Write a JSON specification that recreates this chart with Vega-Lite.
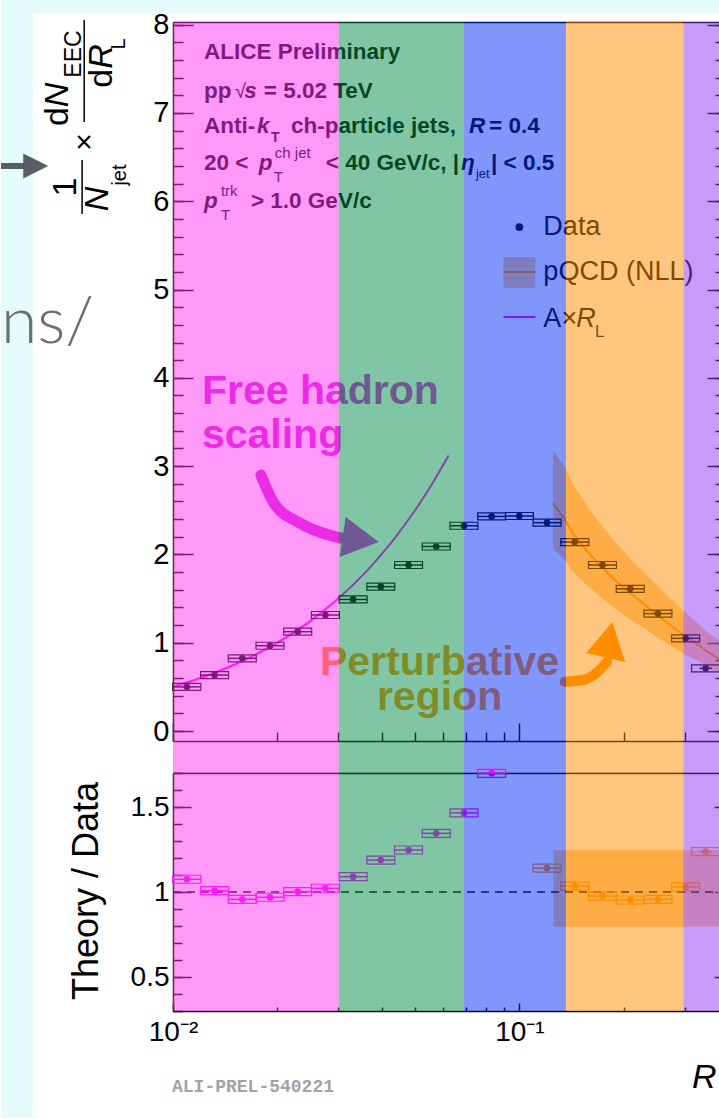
{
"$schema": "https://vega.github.io/schema/vega-lite/v6.json",
"background": "white",
"padding": 0,
"autosize": {"type": "pad"},
"spacing": 32,
"bounds": "flush",
"config": {"view": {"stroke": null}, "font": "Liberation Sans"},
"datasets": {
 "pts": [
  {"x":0.010965,"lo":0.01,"hi":0.012023,"y":0.50},
  {"x":0.013183,"lo":0.012023,"hi":0.014454,"y":0.634},
  {"x":0.015849,"lo":0.014454,"hi":0.017378,"y":0.823},
  {"x":0.019055,"lo":0.017378,"hi":0.020893,"y":0.966},
  {"x":0.022909,"lo":0.020893,"hi":0.025119,"y":1.125},
  {"x":0.027542,"lo":0.025119,"hi":0.0302,"y":1.314},
  {"x":0.033113,"lo":0.0302,"hi":0.036308,"y":1.49},
  {"x":0.039811,"lo":0.036308,"hi":0.043652,"y":1.635},
  {"x":0.047863,"lo":0.043652,"hi":0.052481,"y":1.88},
  {"x":0.057544,"lo":0.052481,"hi":0.063096,"y":2.09},
  {"x":0.069183,"lo":0.063096,"hi":0.075858,"y":2.325},
  {"x":0.083176,"lo":0.075858,"hi":0.091201,"y":2.43},
  {"x":0.1,"lo":0.091201,"hi":0.109648,"y":2.435},
  {"x":0.120226,"lo":0.109648,"hi":0.131826,"y":2.36},
  {"x":0.144544,"lo":0.131826,"hi":0.158489,"y":2.14},
  {"x":0.17378,"lo":0.158489,"hi":0.190546,"y":1.88},
  {"x":0.20893,"lo":0.190546,"hi":0.229087,"y":1.61},
  {"x":0.251189,"lo":0.229087,"hi":0.275423,"y":1.33},
  {"x":0.301995,"lo":0.275423,"hi":0.331131,"y":1.05},
  {"x":0.345,"lo":0.331131,"hi":0.36,"y":0.71}
 ],
 "ratA": [
  {"x":0.010965,"lo":0.01,"hi":0.012023,"r":1.075},
  {"x":0.013183,"lo":0.012023,"hi":0.014454,"r":1.008},
  {"x":0.015849,"lo":0.014454,"hi":0.017378,"r":0.957},
  {"x":0.019055,"lo":0.017378,"hi":0.020893,"r":0.969},
  {"x":0.022909,"lo":0.020893,"hi":0.025119,"r":1.002},
  {"x":0.027542,"lo":0.025119,"hi":0.0302,"r":1.022},
  {"x":0.033113,"lo":0.0302,"hi":0.036308,"r":1.09},
  {"x":0.039811,"lo":0.036308,"hi":0.043652,"r":1.188},
  {"x":0.047863,"lo":0.043652,"hi":0.052481,"r":1.247},
  {"x":0.057544,"lo":0.052481,"hi":0.063096,"r":1.345},
  {"x":0.069183,"lo":0.063096,"hi":0.075858,"r":1.466},
  {"x":0.083176,"lo":0.075858,"hi":0.091201,"r":1.698}
 ],
 "ratP": [
  {"x":0.120226,"lo":0.109648,"hi":0.131826,"r":1.14},
  {"x":0.144544,"lo":0.131826,"hi":0.158489,"r":1.035},
  {"x":0.17378,"lo":0.158489,"hi":0.190546,"r":0.976},
  {"x":0.20893,"lo":0.190546,"hi":0.229087,"r":0.953},
  {"x":0.251189,"lo":0.229087,"hi":0.275423,"r":0.957},
  {"x":0.301995,"lo":0.275423,"hi":0.331131,"r":1.03},
  {"x":0.345,"lo":0.331131,"hi":0.36,"r":1.237}
 ],
 "aline": [
  {"x":0.01,"y":0.50},{"x":0.012,"y":0.60},{"x":0.0145,"y":0.725},{"x":0.0175,"y":0.875},
  {"x":0.021,"y":1.05},{"x":0.025,"y":1.25},{"x":0.03,"y":1.50},{"x":0.036,"y":1.80},
  {"x":0.043,"y":2.15},{"x":0.05,"y":2.50},{"x":0.056,"y":2.80},{"x":0.0625,"y":3.12}
 ],
 "pqcd": [
  {"x":0.125,"c":2.58,"lo":2.07,"hi":3.18},
  {"x":0.135,"c":2.40,"lo":1.94,"hi":3.00},
  {"x":0.1427,"c":2.24,"lo":1.81,"hi":2.80},
  {"x":0.158,"c":2.02,"lo":1.64,"hi":2.53},
  {"x":0.1727,"c":1.86,"lo":1.51,"hi":2.33},
  {"x":0.19,"c":1.70,"lo":1.38,"hi":2.13},
  {"x":0.209,"c":1.56,"lo":1.26,"hi":1.95},
  {"x":0.23,"c":1.43,"lo":1.16,"hi":1.79},
  {"x":0.2524,"c":1.30,"lo":1.05,"hi":1.63},
  {"x":0.275,"c":1.19,"lo":0.96,"hi":1.49},
  {"x":0.2995,"c":1.08,"lo":0.87,"hi":1.35},
  {"x":0.33,"c":0.97,"lo":0.79,"hi":1.21},
  {"x":0.355,"c":0.88,"lo":0.71,"hi":1.10},
  {"x":0.377,"c":0.82,"lo":0.66,"hi":1.03}
 ],
 "rband": [{"lo":0.1253,"hi":0.377,"ylo":0.796,"yhi":1.247}],
 "regions": [
  {"lo":0.01,"hi":0.0301,"region":"r1"},
  {"lo":0.0301,"hi":0.06897,"region":"r2"},
  {"lo":0.06897,"hi":0.13628,"region":"r3"},
  {"lo":0.13628,"hi":0.29753,"region":"r4"},
  {"lo":0.29753,"hi":0.377,"region":"r5"}
 ]
},
"vconcat": [
{
 "width": 546, "height": 719,
 "resolve": {"axis": {"x": "independent", "y": "independent"}},
 "layer": [
  {"data":{"name":"pqcd"},"mark":{"type":"area","color":"#ff8c00","opacity":0.46,"clip":true},
   "encoding":{
    "x":{"field":"x","type":"quantitative","scale":{"type":"log","domain":[0.01,0.377],"nice":false},
         "axis":{"orient":"bottom","values":[0.01,0.1],"tickSize":-18,"tickColor":"black","tickWidth":1.5,"labels":false,"domain":true,"domainColor":"black","domainWidth":1.5,"grid":false,"title":null}},
    "y":{"field":"lo","type":"quantitative","scale":{"domain":[-0.113,8.03],"nice":false,"zero":false},
         "axis":{"orient":"left","values":[0,1,2,3,4,5,6,7,8],"ticks":false,"labels":true,"labelFont":"Liberation Sans","labelFontSize":29,"labelColor":"black","labelPadding":4,"labelFlush":false,"labelOverlap":false,"domain":true,"domainColor":"black","domainWidth":1.5,"grid":false,"title":null}},
    "y2":{"field":"hi"}}},
  {"data":{"name":"pqcd"},"mark":{"type":"line","color":"#ff8c00","strokeWidth":2,"clip":true},
   "encoding":{
    "x":{"field":"x","type":"quantitative","axis":{"orient":"bottom","values":[0.02,0.03,0.04,0.05,0.06,0.07,0.08,0.09,0.2,0.3],"tickSize":-9,"tickColor":"black","tickWidth":1.5,"labels":false,"domain":false,"grid":false,"title":null}},
    "y":{"field":"c","type":"quantitative","axis":{"orient":"left","values":[0,1,2,3,4,5,6,7,8],"tickSize":-20,"tickColor":"black","tickWidth":1.5,"labels":false,"domain":false,"grid":false,"title":null}}}},
  {"data":{"name":"aline"},"mark":{"type":"line","color":"#ff00ff","strokeWidth":2,"interpolate":"monotone"},
   "encoding":{
    "x":{"field":"x","type":"quantitative","axis":{"orient":"top","ticks":false,"labels":false,"domain":true,"domainColor":"black","domainWidth":1.5,"grid":false,"title":null}},
    "y":{"field":"y","type":"quantitative","axis":{"orient":"left","values":[0,0.2,0.4,0.6,0.8,1,1.2,1.4,1.6,1.8,2,2.2,2.4,2.6,2.8,3,3.2,3.4,3.6,3.8,4,4.2,4.4,4.6,4.8,5,5.2,5.4,5.6,5.8,6,6.2,6.4,6.6,6.8,7,7.2,7.4,7.6,7.8,8],"tickSize":-10,"tickColor":"black","tickWidth":1.5,"labels":false,"domain":false,"grid":false,"title":null}}}},
  {"data":{"name":"pts"},"mark":{"type":"rule","color":"black","strokeWidth":1.5},
   "encoding":{
    "x":{"field":"lo","type":"quantitative","axis":null},"x2":{"field":"hi"},
    "y":{"field":"y","type":"quantitative","axis":{"orient":"right","values":[0,1,2,3,4,5,6,7,8],"tickSize":-12,"tickColor":"black","tickWidth":1.5,"labels":false,"domain":false,"grid":false,"title":null}}}},
  {"data":{"name":"pts"},"mark":{"type":"point","shape":"M-14,-3.5H14V3.5H-14Z","size":4,"filled":false,"color":"black","strokeWidth":1.2,"opacity":1},
   "encoding":{
    "x":{"field":"x","type":"quantitative","axis":null},
    "y":{"field":"y","type":"quantitative","axis":{"orient":"right","values":[0,0.2,0.4,0.6,0.8,1,1.2,1.4,1.6,1.8,2,2.2,2.4,2.6,2.8,3,3.2,3.4,3.6,3.8,4,4.2,4.4,4.6,4.8,5,5.2,5.4,5.6,5.8,6,6.2,6.4,6.6,6.8,7,7.2,7.4,7.6,7.8,8],"tickSize":-4,"tickColor":"black","tickWidth":1.5,"labels":false,"domain":false,"grid":false,"title":null}}}},
  {"data":{"name":"pts"},"mark":{"type":"circle","size":45,"color":"black","opacity":1},
   "encoding":{"x":{"field":"x","type":"quantitative","axis":null},"y":{"field":"y","type":"quantitative","axis":null}}},

  {"data":{"values":[{}]},"mark":{"type":"text","text":"ALICE Preliminary","align":"left","baseline":"alphabetic","fontSize":22.5,"fontWeight":"bold","color":"black"},"encoding":{"x":{"datum":0.01228,"axis":null},"y":{"datum":7.610,"axis":null}}},
  {"data":{"values":[{}]},"mark":{"type":"text","text":"pp","align":"left","baseline":"alphabetic","fontSize":22.5,"fontWeight":"bold","color":"black"},"encoding":{"x":{"datum":0.01228,"axis":null},"y":{"datum":7.169,"axis":null}}},
  {"data":{"values":[{}]},"mark":{"type":"text","text":"√","align":"left","baseline":"alphabetic","fontSize":20,"color":"black"},"encoding":{"x":{"datum":0.01510,"axis":null},"y":{"datum":7.169,"axis":null}}},
  {"data":{"values":[{}]},"mark":{"type":"text","text":"s","align":"left","baseline":"alphabetic","fontSize":22.5,"fontWeight":"bold","fontStyle":"italic","color":"black"},"encoding":{"x":{"datum":0.01605,"axis":null},"y":{"datum":7.169,"axis":null}}},
  {"data":{"values":[{}]},"mark":{"type":"text","text":"= 5.02 TeV","align":"left","baseline":"alphabetic","fontSize":22.5,"fontWeight":"bold","color":"black"},"encoding":{"x":{"datum":0.01829,"axis":null},"y":{"datum":7.169,"axis":null}}},
  {"data":{"values":[{}]},"mark":{"type":"text","text":"Anti-","align":"left","baseline":"alphabetic","fontSize":22.5,"fontWeight":"bold","color":"black"},"encoding":{"x":{"datum":0.01228,"axis":null},"y":{"datum":6.772,"axis":null}}},
  {"data":{"values":[{}]},"mark":{"type":"text","text":"k","align":"left","baseline":"alphabetic","fontSize":22.5,"fontWeight":"bold","fontStyle":"italic","color":"black"},"encoding":{"x":{"datum":0.01748,"axis":null},"y":{"datum":6.772,"axis":null}}},
  {"data":{"values":[{}]},"mark":{"type":"text","text":"T","align":"left","baseline":"alphabetic","fontSize":14,"fontWeight":"bold","color":"black"},"encoding":{"x":{"datum":0.01918,"axis":null},"y":{"datum":6.670,"axis":null}}},
  {"data":{"values":[{}]},"mark":{"type":"text","text":"ch-particle jets,","align":"left","baseline":"alphabetic","fontSize":22.5,"fontWeight":"bold","color":"black"},"encoding":{"x":{"datum":0.02191,"axis":null},"y":{"datum":6.772,"axis":null}}},
  {"data":{"values":[{}]},"mark":{"type":"text","text":"R","align":"left","baseline":"alphabetic","fontSize":22.5,"fontWeight":"bold","fontStyle":"italic","color":"black"},"encoding":{"x":{"datum":0.07155,"axis":null},"y":{"datum":6.772,"axis":null}}},
  {"data":{"values":[{}]},"mark":{"type":"text","text":"= 0.4","align":"left","baseline":"alphabetic","fontSize":22.5,"fontWeight":"bold","color":"black"},"encoding":{"x":{"datum":0.08171,"axis":null},"y":{"datum":6.772,"axis":null}}},
  {"data":{"values":[{}]},"mark":{"type":"text","text":"20 <","align":"left","baseline":"alphabetic","fontSize":22.5,"fontWeight":"bold","color":"black"},"encoding":{"x":{"datum":0.01228,"axis":null},"y":{"datum":6.353,"axis":null}}},
  {"data":{"values":[{}]},"mark":{"type":"text","text":"p","align":"left","baseline":"alphabetic","fontSize":22.5,"fontWeight":"bold","fontStyle":"italic","color":"black"},"encoding":{"x":{"datum":0.01769,"axis":null},"y":{"datum":6.353,"axis":null}}},
  {"data":{"values":[{}]},"mark":{"type":"text","text":"ch jet","align":"left","baseline":"alphabetic","fontSize":15,"color":"black"},"encoding":{"x":{"datum":0.01968,"axis":null},"y":{"datum":6.489,"axis":null}}},
  {"data":{"values":[{}]},"mark":{"type":"text","text":"T","align":"left","baseline":"alphabetic","fontSize":15,"color":"black"},"encoding":{"x":{"datum":0.01955,"axis":null},"y":{"datum":6.217,"axis":null}}},
  {"data":{"values":[{}]},"mark":{"type":"text","text":"< 40 GeV/c, |","align":"left","baseline":"alphabetic","fontSize":22.5,"fontWeight":"bold","color":"black"},"encoding":{"x":{"datum":0.02761,"axis":null},"y":{"datum":6.353,"axis":null}}},
  {"data":{"values":[{}]},"mark":{"type":"text","text":"η","align":"left","baseline":"alphabetic","fontSize":22.5,"fontWeight":"bold","fontStyle":"italic","color":"black"},"encoding":{"x":{"datum":0.06783,"axis":null},"y":{"datum":6.353,"axis":null}}},
  {"data":{"values":[{}]},"mark":{"type":"text","text":"jet","align":"left","baseline":"alphabetic","fontSize":13,"color":"black"},"encoding":{"x":{"datum":0.07494,"axis":null},"y":{"datum":6.263,"axis":null}}},
  {"data":{"values":[{}]},"mark":{"type":"text","text":"| < 0.5","align":"left","baseline":"alphabetic","fontSize":22.5,"fontWeight":"bold","color":"black"},"encoding":{"x":{"datum":0.08281,"axis":null},"y":{"datum":6.353,"axis":null}}},
  {"data":{"values":[{}]},"mark":{"type":"text","text":"p","align":"left","baseline":"alphabetic","fontSize":22.5,"fontWeight":"bold","fontStyle":"italic","color":"black"},"encoding":{"x":{"datum":0.01228,"axis":null},"y":{"datum":5.923,"axis":null}}},
  {"data":{"values":[{}]},"mark":{"type":"text","text":"trk","align":"left","baseline":"alphabetic","fontSize":15,"color":"black"},"encoding":{"x":{"datum":0.01375,"axis":null},"y":{"datum":6.059,"axis":null}}},
  {"data":{"values":[{}]},"mark":{"type":"text","text":"T","align":"left","baseline":"alphabetic","fontSize":15,"color":"black"},"encoding":{"x":{"datum":0.01375,"axis":null},"y":{"datum":5.787,"axis":null}}},
  {"data":{"values":[{}]},"mark":{"type":"text","text":"> 1.0 GeV/c","align":"left","baseline":"alphabetic","fontSize":22.5,"fontWeight":"bold","color":"black"},"encoding":{"x":{"datum":0.01679,"axis":null},"y":{"datum":5.923,"axis":null}}},

  {"data":{"values":[{}]},"mark":{"type":"circle","size":60,"color":"black","opacity":1},"encoding":{"x":{"datum":0.1,"axis":null},"y":{"datum":5.708,"axis":null}}},
  {"data":{"values":[{}]},"mark":{"type":"text","text":"Data","align":"left","baseline":"alphabetic","fontSize":27,"color":"black"},"encoding":{"x":{"datum":0.1173,"axis":null},"y":{"datum":5.617,"axis":null}}},
  {"data":{"values":[{}]},"mark":{"type":"rect","color":"#ff8c00","opacity":0.46},"encoding":{"x":{"datum":0.08994,"axis":null},"x2":{"datum":0.1112},"y":{"datum":5.017,"axis":null},"y2":{"datum":5.368}}},
  {"data":{"values":[{}]},"mark":{"type":"rule","color":"#ff8c00","strokeWidth":2},"encoding":{"x":{"datum":0.08994,"axis":null},"x2":{"datum":0.1112},"y":{"datum":5.198,"axis":null}}},
  {"data":{"values":[{}]},"mark":{"type":"text","text":"pQCD (NLL)","align":"left","baseline":"alphabetic","fontSize":27,"color":"black"},"encoding":{"x":{"datum":0.1173,"axis":null},"y":{"datum":5.108,"axis":null}}},
  {"data":{"values":[{}]},"mark":{"type":"rule","color":"#ff00ff","strokeWidth":2},"encoding":{"x":{"datum":0.08994,"axis":null},"x2":{"datum":0.1112},"y":{"datum":4.689,"axis":null}}},
  {"data":{"values":[{}]},"mark":{"type":"text","text":"A×","align":"left","baseline":"alphabetic","fontSize":27,"color":"black"},"encoding":{"x":{"datum":0.1173,"axis":null},"y":{"datum":4.575,"axis":null}}},
  {"data":{"values":[{}]},"mark":{"type":"text","text":"R","align":"left","baseline":"alphabetic","fontSize":27,"fontStyle":"italic","color":"black"},"encoding":{"x":{"datum":0.1460,"axis":null},"y":{"datum":4.575,"axis":null}}},
  {"data":{"values":[{}]},"mark":{"type":"text","text":"L","align":"left","baseline":"alphabetic","fontSize":17,"color":"black"},"encoding":{"x":{"datum":0.1654,"axis":null},"y":{"datum":4.462,"axis":null}}},

  {"data":{"values":[{}]},"mark":{"type":"text","text":"Free hadron","align":"left","baseline":"alphabetic","fontSize":41,"fontWeight":"bold","color":"#dd22dd"},"encoding":{"x":{"datum":0.01212,"axis":null},"y":{"datum":3.703,"axis":null}}},
  {"data":{"values":[{}]},"mark":{"type":"text","text":"scaling","align":"left","baseline":"alphabetic","fontSize":41,"fontWeight":"bold","color":"#dd22dd"},"encoding":{"x":{"datum":0.01212,"axis":null},"y":{"datum":3.205,"axis":null}}},
  {"data":{"values":[{}]},"mark":{"type":"text","text":"Perturbative","align":"center","baseline":"alphabetic","fontSize":41,"fontWeight":"bold","color":"#ff8c00"},"encoding":{"x":{"datum":0.05882,"axis":null},"y":{"datum":0.634,"axis":null}}},
  {"data":{"values":[{}]},"mark":{"type":"text","text":"region","align":"center","baseline":"alphabetic","fontSize":41,"fontWeight":"bold","color":"#ff8c00"},"encoding":{"x":{"datum":0.05882,"axis":null},"y":{"datum":0.238,"axis":null}}},
  {"data":{"values":[{"x":0.01794,"y":2.899},{"x":0.01955,"y":2.582},{"x":0.02323,"y":2.356},{"x":0.02817,"y":2.22},{"x":0.03152,"y":2.174}]},
   "mark":{"type":"line","color":"#dd22dd","strokeWidth":11,"strokeCap":"round","interpolate":"monotone"},
   "encoding":{"x":{"field":"x","type":"quantitative","axis":null},"y":{"field":"y","type":"quantitative","axis":null}}},
  {"data":{"values":[{}]},"mark":{"type":"point","shape":"M-9,-22L24,3L-15,18Z","size":4,"filled":true,"color":"#dd22dd","opacity":1},"encoding":{"x":{"datum":0.03345,"axis":null},"y":{"datum":2.174,"axis":null}}},
  {"data":{"values":[{"x":0.1351,"y":0.558},{"x":0.1527,"y":0.578},{"x":0.1683,"y":0.672},{"x":0.1791,"y":0.785}]},
   "mark":{"type":"line","color":"#ff8c00","strokeWidth":10,"strokeCap":"round","interpolate":"monotone"},
   "encoding":{"x":{"field":"x","type":"quantitative","axis":null},"y":{"field":"y","type":"quantitative","axis":null}}},
  {"data":{"values":[{}]},"mark":{"type":"point","shape":"M-22,7L4,-24L17,16Z","size":4,"filled":true,"color":"#ff8c00","opacity":1},"encoding":{"x":{"datum":0.1805,"axis":null},"y":{"datum":0.963,"axis":null}}},

  {"data":{"name":"regions"},"mark":{"type":"rect","opacity":0.5},
   "encoding":{
    "x":{"field":"lo","type":"quantitative","axis":null},"x2":{"field":"hi"},
    "y":{"datum":-0.476,"axis":null},"y2":{"datum":8.03},
    "color":{"field":"region","type":"nominal","legend":null,"scale":{"domain":["r1","r2","r3","r4","r5"],"range":["#fd33f1","#018d4b","#012df5","#fd8d00","#9137f5"]}}}},

  {"data":{"values":[{}]},"mark":{"type":"text","text":"1","align":"center","baseline":"middle","angle":270,"fontSize":34,"color":"black"},"encoding":{"x":{"datum":0.004915,"axis":null},"y":{"datum":6.1608,"axis":null}}},
  {"data":{"values":[{}]},"mark":{"type":"rule","color":"black","strokeWidth":1.5},"encoding":{"x":{"datum":0.005466,"axis":null},"y":{"datum":6.4666,"axis":null},"y2":{"datum":5.855}}},
  {"data":{"values":[{}]},"mark":{"type":"text","text":"N","align":"center","baseline":"middle","angle":270,"fontSize":34,"fontStyle":"italic","color":"black"},"encoding":{"x":{"datum":0.006079,"axis":null},"y":{"datum":6.0249,"axis":null}}},
  {"data":{"values":[{}]},"mark":{"type":"text","text":"jet","align":"center","baseline":"middle","angle":270,"fontSize":20,"color":"black"},"encoding":{"x":{"datum":0.007036,"axis":null},"y":{"datum":6.2967,"axis":null}}},
  {"data":{"values":[{}]},"mark":{"type":"text","text":"×","align":"center","baseline":"middle","angle":270,"fontSize":30,"color":"black"},"encoding":{"x":{"datum":0.005578,"axis":null},"y":{"datum":6.6704,"axis":null}}},
  {"data":{"values":[{}]},"mark":{"type":"text","text":"d","align":"center","baseline":"middle","angle":270,"fontSize":34,"color":"black"},"encoding":{"x":{"datum":0.004662,"axis":null},"y":{"datum":6.9592,"axis":null}}},
  {"data":{"values":[{}]},"mark":{"type":"text","text":"N","align":"center","baseline":"middle","angle":270,"fontSize":34,"fontStyle":"italic","color":"black"},"encoding":{"x":{"datum":0.004662,"axis":null},"y":{"datum":7.2027,"axis":null}}},
  {"data":{"values":[{}]},"mark":{"type":"text","text":"EEC","align":"center","baseline":"middle","angle":270,"fontSize":23,"color":"black"},"encoding":{"x":{"datum":0.005184,"axis":null},"y":{"datum":7.667,"axis":null}}},
  {"data":{"values":[{}]},"mark":{"type":"rule","color":"black","strokeWidth":1.5},"encoding":{"x":{"datum":0.005541,"axis":null},"y":{"datum":8.0521,"axis":null},"y2":{"datum":6.8969}}},
  {"data":{"values":[{}]},"mark":{"type":"text","text":"d","align":"center","baseline":"middle","angle":270,"fontSize":34,"color":"black"},"encoding":{"x":{"datum":0.006243,"axis":null},"y":{"datum":7.392,"axis":null}}},
  {"data":{"values":[{}]},"mark":{"type":"text","text":"R","align":"center","baseline":"middle","angle":270,"fontSize":34,"fontStyle":"italic","color":"black"},"encoding":{"x":{"datum":0.006243,"axis":null},"y":{"datum":7.639,"axis":null}}},
  {"data":{"values":[{}]},"mark":{"type":"text","text":"L","align":"center","baseline":"middle","angle":270,"fontSize":20,"color":"black"},"encoding":{"x":{"datum":0.00699,"axis":null},"y":{"datum":7.7803,"axis":null}}},

  {"data":{"values":[{}]},"mark":{"type":"rect","color":"#e6fcfc"},"encoding":{"x":{"datum":0.0031872,"axis":null},"x2":{"datum":0.0039432},"y":{"datum":8.2791,"axis":null},"y2":{"datum":-4.3825}}},
  {"data":{"values":[{}]},"mark":{"type":"rect","color":"#e6fcfc"},"encoding":{"x":{"datum":0.0039432,"axis":null},"x2":{"datum":0.377},"y":{"datum":8.2791,"axis":null},"y2":{"datum":8.1314}}},
  {"data":{"values":[{}]},"mark":{"type":"text","text":"ns/","align":"left","baseline":"alphabetic","fontSize":66,"font":"Lato","fontWeight":300,"color":"#6e6e6e"},"encoding":{"x":{"datum":0.0031872,"axis":null},"y":{"datum":4.394,"axis":null}}},
  {"data":{"values":[{}]},"mark":{"type":"rect","color":"#575e66"},"encoding":{"x":{"datum":0.0031872,"axis":null},"x2":{"datum":0.0037962},"y":{"datum":6.433,"axis":null},"y2":{"datum":6.365}}},
  {"data":{"values":[{}]},"mark":{"type":"point","shape":"M-12.5,-12.5L12.5,0L-12.5,12.5Z","size":4,"filled":true,"color":"#575e66","opacity":1},"encoding":{"x":{"datum":0.0040158,"axis":null},"y":{"datum":6.3986,"axis":null}}}
 ]
},
{
 "width": 546, "height": 238,
 "resolve": {"axis": {"x": "independent", "y": "independent"}},
 "layer": [
  {"data":{"name":"rband"},"mark":{"type":"rect","color":"#ff8c00","opacity":0.46},
   "encoding":{
    "x":{"field":"lo","type":"quantitative","scale":{"type":"log","domain":[0.01,0.377],"nice":false},
         "axis":{"orient":"bottom","values":[0.01,0.1],"labelExpr":"datum.value < 0.05 ? '10⁻²' : '10⁻¹'","ticks":false,"labels":true,"labelFont":"Liberation Sans","labelFontSize":28,"labelColor":"black","labelPadding":7,"labelFlush":false,"labelOverlap":false,"domain":true,"domainColor":"black","domainWidth":1.5,"grid":false,"title":null}},
    "x2":{"field":"hi"},
    "y":{"field":"ylo","type":"quantitative","scale":{"domain":[0.3,1.7],"nice":false,"zero":false},
         "axis":{"orient":"left","values":[0.5,1,1.5],"format":"~g","ticks":false,"labels":true,"labelFont":"Liberation Sans","labelFontSize":28,"labelColor":"black","labelPadding":4,"labelFlush":false,"labelOverlap":false,"domain":true,"domainColor":"black","domainWidth":1.5,"grid":false,"title":null}},
    "y2":{"field":"yhi"}}},
  {"data":{"values":[{}]},"mark":{"type":"rule","color":"black","strokeWidth":1.5,"strokeDash":[8,6]},
   "encoding":{
    "x":{"datum":0.01,"axis":{"orient":"bottom","values":[0.01,0.1],"tickSize":-8,"tickColor":"black","tickWidth":1.5,"labels":false,"domain":false,"grid":false,"title":null}},
    "x2":{"datum":0.377},
    "y":{"datum":1,"axis":{"orient":"left","values":[0.5,1,1.5],"tickSize":-18,"tickColor":"black","tickWidth":1.5,"labels":false,"domain":false,"grid":false,"title":null}}}},
  {"data":{"name":"ratA"},"mark":{"type":"rule","color":"#ff00ff","strokeWidth":1.5},
   "encoding":{
    "x":{"field":"lo","type":"quantitative","axis":{"orient":"bottom","values":[0.02,0.03,0.04,0.05,0.06,0.07,0.08,0.09,0.2,0.3],"tickSize":-4,"tickColor":"black","tickWidth":1.5,"labels":false,"domain":false,"grid":false,"title":null}},
    "x2":{"field":"hi"},
    "y":{"field":"r","type":"quantitative","axis":{"orient":"left","values":[0.3,0.4,0.5,0.6,0.7,0.8,0.9,1,1.1,1.2,1.3,1.4,1.5,1.6,1.7],"tickSize":-9,"tickColor":"black","tickWidth":1.5,"labels":false,"domain":false,"grid":false,"title":null}}}},
  {"data":{"name":"ratA"},"mark":{"type":"point","shape":"M-14,-4H14V4H-14Z","size":4,"filled":false,"color":"#ff00ff","strokeWidth":1.2,"opacity":1},
   "encoding":{
    "x":{"field":"x","type":"quantitative","axis":{"orient":"top","ticks":false,"labels":false,"domain":true,"domainColor":"black","domainWidth":1.5,"grid":false,"title":null}},
    "y":{"field":"r","type":"quantitative","axis":{"orient":"right","values":[0.5,1,1.5],"tickSize":-5,"tickColor":"black","tickWidth":1.5,"labels":false,"domain":false,"grid":false,"title":null}}}},
  {"data":{"name":"ratA"},"mark":{"type":"circle","size":45,"color":"#ff00ff","opacity":1},
   "encoding":{"x":{"field":"x","type":"quantitative","axis":null},"y":{"field":"r","type":"quantitative","axis":null}}},
  {"data":{"name":"ratP"},"mark":{"type":"rule","color":"#ff8c00","strokeWidth":1.5},
   "encoding":{"x":{"field":"lo","type":"quantitative","axis":null},"x2":{"field":"hi"},"y":{"field":"r","type":"quantitative","axis":null}}},
  {"data":{"name":"ratP"},"mark":{"type":"point","shape":"M-14,-4H14V4H-14Z","size":4,"filled":false,"color":"#ff8c00","strokeWidth":1.2,"opacity":1},
   "encoding":{"x":{"field":"x","type":"quantitative","axis":null},"y":{"field":"r","type":"quantitative","axis":null}}},
  {"data":{"name":"ratP"},"mark":{"type":"circle","size":45,"color":"#ff8c00","opacity":1},
   "encoding":{"x":{"field":"x","type":"quantitative","axis":null},"y":{"field":"r","type":"quantitative","axis":null}}},
  {"data":{"values":[{}]},"mark":{"type":"text","text":"Theory / Data","align":"center","baseline":"middle","angle":270,"fontSize":36,"color":"black"},"encoding":{"x":{"datum":0.005652,"axis":null},"y":{"datum":1.006,"axis":null}}},
  {"data":{"values":[{}]},"mark":{"type":"text","text":"ALI-PREL-540221","align":"left","baseline":"middle","fontSize":18,"font":"Liberation Mono","fontWeight":"bold","color":"#a3a3a3"},"encoding":{"x":{"datum":0.009934,"axis":null},"y":{"datum":-0.147,"axis":null}}},
  {"data":{"values":[{}]},"mark":{"type":"text","text":"R","align":"left","baseline":"alphabetic","fontSize":34,"fontStyle":"italic","color":"black"},"encoding":{"x":{"datum":0.3152,"axis":null},"y":{"datum":-0.153,"axis":null}}},
  {"data":{"name":"regions"},"mark":{"type":"rect","opacity":0.5},
   "encoding":{
    "x":{"field":"lo","type":"quantitative","axis":null},"x2":{"field":"hi"},
    "y":{"datum":0.3,"axis":null},"y2":{"datum":1.7},
    "color":{"field":"region","type":"nominal","legend":null,"scale":{"domain":["r1","r2","r3","r4","r5"],"range":["#fd33f1","#018d4b","#012df5","#fd8d00","#9137f5"]}}}}
 ]
}
]
}
